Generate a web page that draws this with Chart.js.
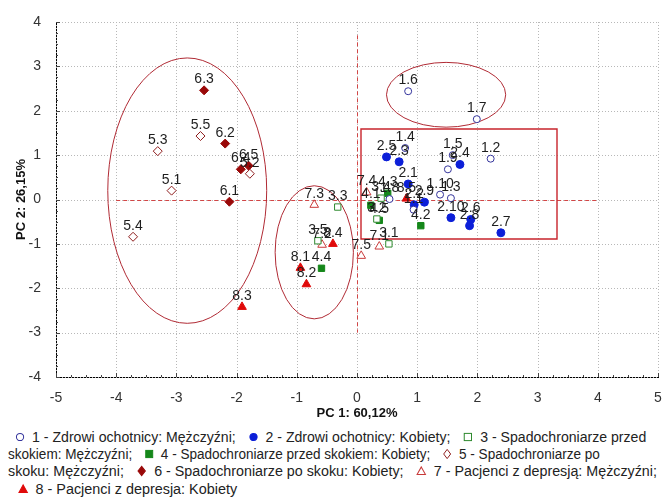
<!DOCTYPE html>
<html lang="pl">
<head>
<meta charset="utf-8">
<script src="https://cdn.jsdelivr.net/npm/chart.js@4.4.1/dist/chart.umd.min.js"></script>
<style>
  body { margin: 0; background: #fff; font-family: "Liberation Sans", Arial, sans-serif; }
  #wrap { position: relative; width: 664px; height: 499px; overflow: hidden; }
  #pca { position: absolute; left: 0; top: 0; }
  .lline { position: absolute; white-space: nowrap; font-size: 14px; color: #222; transform-origin: 0 50%; line-height: 16px; }
  .lline svg { vertical-align: -1px; margin-right: 6px; }
</style>
</head>
<body>
<div id="wrap">
  <canvas id="pca" width="664" height="424"></canvas>
  <div id="legend"></div>
</div>
<script>
// PCA scores (PC1, PC2) per group
const groupNames = [
  "1 - Zdrowi ochotnicy: Mężczyźni",
  "2 - Zdrowi ochotnicy: Kobiety",
  "3 - Spadochroniarze przed skokiem: Mężczyźni",
  "4 - Spadochroniarze przed skokiem: Kobiety",
  "5 - Spadochroniarze po skoku: Mężczyźni",
  "6 - Spadochroniarze po skoku: Kobiety",
  "7 - Pacjenci z depresją: Mężczyźni",
  "8 - Pacjenci z depresja: Kobiety"
];

const ids1 = ["1.1", "1.2", "1.3", "1.4", "1.5", "1.6", "1.7", "1.8", "1.9", "1.10"];
const pc1_1 = [0.94, 2.22, 1.56, 0.80, 1.59, 0.85, 1.99, 0.54, 1.51, 1.38];
const pc2_1 = [-0.23, 0.92, 0.03, 1.16, 1.00, 2.44, 1.81, 0.01, 0.68, 0.11];

const ids2 = ["2.1", "2.2", "2.3", "2.4", "2.5", "2.6", "2.7", "2.8", "2.9", "2.10"];
const pc1_2 = [0.85, 0.95, 0.70, 1.71, 0.49, 1.89, 2.39, 1.87, 1.12, 1.56];
const pc2_2 = [0.35, -0.12, 0.85, 0.79, 0.96, -0.45, -0.75, -0.59, -0.06, -0.41];

const ids3 = ["3.1", "3.2", "3.3", "3.4", "3.5"];
const pc1_3 = [0.53, 0.33, -0.32, 0.40, -0.65];
const pc2_3 = [-1.00, -0.44, -0.17, 0.03, -0.93];

const ids4 = ["4.1", "4.2", "4.3", "4.4", "4.5"];
const pc1_4 = [0.23, 1.06, 0.51, -0.59, 0.37];
const pc2_4 = [-0.13, -0.59, 0.14, -1.55, -0.47];

const ids5 = ["5.1", "5.2", "5.3", "5.4", "5.5"];
const pc1_5 = [-3.08, -1.78, -3.31, -3.72, -2.60];
const pc2_5 = [0.20, 0.58, 1.09, -0.84, 1.43];

const ids6 = ["6.1", "6.2", "6.3", "6.4", "6.5"];
const pc1_6 = [-2.12, -2.19, -2.54, -1.93, -1.80];
const pc2_6 = [-0.05, 1.26, 2.46, 0.68, 0.76];

const ids7 = ["7.1", "7.2", "7.3", "7.4", "7.5"];
const pc1_7 = [0.37, -0.58, -0.71, 0.16, 0.07];
const pc2_7 = [-1.06, -1.02, -0.12, 0.16, -1.27];

const ids8 = ["8.1", "8.2", "8.3", "8.4", "8.5"];
const pc1_8 = [-0.94, -0.84, -1.91, -0.40, 0.82];
const pc2_8 = [-1.54, -1.91, -2.42, -1.00, 0.02];

const xTicks = [-5, -4, -3, -2, -1, 0, 1, 2, 3, 4, 5];
const yTicks = [-4, -3, -2, -1, 0, 1, 2, 3, 4];

// cluster outlines in PC units: centre x, centre y, half-width, half-height
const ellCx = [-2.82, -0.71, 1.48];
const ellCy = [0.20, -1.19, 2.36];
const ellRx = [1.32, 0.65, 0.99];
const ellRy = [2.99, 1.50, 0.73];
// box around the healthy group: x1, y1, x2, y2
const boxPc = [0.06, 1.60, 3.33, -0.88];

const groups = [
  { ids: ids1, xs: pc1_1, ys: pc2_1, shape: "circle",   col: "#34349c", fill: false, r: 3.5 },
  { ids: ids2, xs: pc1_2, ys: pc2_2, shape: "circle",   col: "#0c1fd8", fill: true,  r: 4 },
  { ids: ids3, xs: pc1_3, ys: pc2_3, shape: "rect",     col: "#2f8a2f", fill: false, r: 4.5 },
  { ids: ids4, xs: pc1_4, ys: pc2_4, shape: "rect",     col: "#15871a", fill: true,  r: 4.5 },
  { ids: ids5, xs: pc1_5, ys: pc2_5, shape: "rectRot",  col: "#8e1c1c", fill: false, r: 4.5 },
  { ids: ids6, xs: pc1_6, ys: pc2_6, shape: "rectRot",  col: "#990808", fill: true,  r: 4.5 },
  { ids: ids7, xs: pc1_7, ys: pc2_7, shape: "triangle", col: "#c83a3a", fill: false, r: 5 },
  { ids: ids8, xs: pc1_8, ys: pc2_8, shape: "triangle", col: "#e00a0a", fill: true,  r: 5 }
];

const datasets = groups.map((g, i) => ({
  label: groupNames[i],
  data: g.xs.map((v, k) => ({ x: v, y: g.ys[k], id: g.ids[k] })),
  pointStyle: g.shape,
  pointRadius: g.r,
  pointBorderWidth: 1,
  pointBorderColor: g.col,
  pointBackgroundColor: g.fill ? g.col : "#fff",
  showLine: false
}));

const overlay = {
  id: "overlay",
  beforeDatasetsDraw(chart) {
    const { ctx, scales: { x, y }, chartArea: a } = chart;
    const ux = x.getPixelForValue(1) - x.getPixelForValue(0);
    const uy = y.getPixelForValue(0) - y.getPixelForValue(1);
    ctx.save();

    // dotted grid
    ctx.strokeStyle = "#b8b8b8";
    ctx.lineWidth = 1;
    ctx.setLineDash([1, 2]);
    ctx.beginPath();
    xTicks.forEach(v => {
      const p = Math.round(x.getPixelForValue(v)) + 0.5;
      ctx.moveTo(p, a.top); ctx.lineTo(p, a.bottom);
    });
    yTicks.forEach(v => {
      const p = Math.round(y.getPixelForValue(v)) + 0.5;
      ctx.moveTo(a.left, p); ctx.lineTo(a.right, p);
    });
    ctx.stroke();
    ctx.setLineDash([]);

    // inward ticks, minor every 0.25
    ctx.strokeStyle = "#444";
    ctx.beginPath();
    for (let v = -5; v <= 5.001; v += 0.25) {
      const p = Math.round(x.getPixelForValue(v)) + 0.5;
      const len = Number.isInteger(v) ? 4 : 2;
      ctx.moveTo(p, a.bottom); ctx.lineTo(p, a.bottom - len);
    }
    for (let v = -4; v <= 4.001; v += 0.25) {
      const p = Math.round(y.getPixelForValue(v)) + 0.5;
      const len = Number.isInteger(v) ? 4 : 2;
      ctx.moveTo(a.left, p); ctx.lineTo(a.left + len, p);
    }
    ctx.stroke();

    // dashed axes through the origin
    ctx.strokeStyle = "#d24646";
    ctx.setLineDash([4, 3]);
    ctx.beginPath();
    const y0 = Math.round(y.getPixelForValue(0)) + 0.5;
    ctx.moveTo(x.getPixelForValue(-4), y0); ctx.lineTo(x.getPixelForValue(4), y0);
    const x0 = Math.round(x.getPixelForValue(0)) + 0.5;
    ctx.moveTo(x0, y.getPixelForValue(3.7)); ctx.lineTo(x0, y.getPixelForValue(-3));
    ctx.stroke();
    ctx.setLineDash([]);

    // cluster ellipses and box
    ctx.strokeStyle = "#b02a34";
    ctx.lineWidth = 1;
    ellCx.forEach((cx, i) => {
      ctx.beginPath();
      ctx.ellipse(x.getPixelForValue(cx), y.getPixelForValue(ellCy[i]), ellRx[i] * ux, ellRy[i] * uy, 0, 0, Math.PI * 2);
      ctx.stroke();
    });
    const bx1 = Math.round(x.getPixelForValue(boxPc[0]));
    const by1 = Math.round(y.getPixelForValue(boxPc[1]));
    const bx2 = Math.round(x.getPixelForValue(boxPc[2]));
    const by2 = Math.round(y.getPixelForValue(boxPc[3]));
    ctx.beginPath();
    ctx.rect(bx1, by1, bx2 - bx1, by2 - by1);
    ctx.lineWidth = 1.4;
    ctx.strokeStyle = "#c8242c";
    ctx.stroke();
    ctx.restore();
  },
  afterDatasetsDraw(chart) {
    const { ctx } = chart;
    ctx.save();
    ctx.font = '14px "Liberation Sans", Arial, sans-serif';
    ctx.fillStyle = "#1e1e1e";
    ctx.textAlign = "center";
    ctx.textBaseline = "alphabetic";
    chart.data.datasets.forEach((ds, i) => {
      const meta = chart.getDatasetMeta(i);
      meta.data.forEach((pt, k) => {
        ctx.fillText(ds.data[k].id, pt.x, pt.y - 7);
      });
    });
    ctx.restore();
  }
};

new Chart(document.getElementById("pca"), {
  type: "scatter",
  data: { datasets },
  options: {
    responsive: false,
    animation: false,
    layout: { padding: { top: 22, right: 3, left: 0, bottom: 0 } },
    plugins: { legend: { display: false }, tooltip: { enabled: false } },
    scales: {
      x: {
        type: "linear", min: -5, max: 5,
        afterBuildTicks: s => { s.ticks = xTicks.map(v => ({ value: v })); },
        ticks: { color: "#333", font: { size: 14, family: '"Liberation Sans", Arial' }, padding: 5, maxRotation: 0 },
        grid: { display: false },
        border: { display: true, color: "#000", width: 1 },
        title: { display: true, text: "PC 1: 60,12%", color: "#111", font: { size: 13, weight: "bold", family: '"Liberation Sans", Arial' }, padding: { top: 2, bottom: 3 } },
        afterFit: s => { s.height = 47; s.paddingLeft = 0; s.paddingRight = 0; }
      },
      y: {
        type: "linear", min: -4, max: 4,
        afterBuildTicks: s => { s.ticks = yTicks.map(v => ({ value: v })); },
        ticks: { color: "#333", font: { size: 14, family: '"Liberation Sans", Arial' }, padding: 7 },
        grid: { display: false },
        border: { display: true, color: "#000", width: 1 },
        title: { display: true, text: "PC 2: 26,15%", color: "#111", font: { size: 13, weight: "bold", family: '"Liberation Sans", Arial' }, padding: { top: 14, bottom: 0 } },
        afterFit: s => { s.width = 56; s.paddingTop = 0; s.paddingBottom = 0; }
      }
    }
  },
  plugins: [overlay]
});

// legend under the plot, wrapped the same way as the printed figure
function markerSvg(g) {
  const s = 12, c = s / 2, r = 3.6;
  const fill = g.fill ? g.col : "#fff";
  let shape;
  if (g.shape === "circle") shape = `<circle cx="${c}" cy="${c}" r="${r}"/>`;
  else if (g.shape === "rect") shape = `<rect x="${c - r}" y="${c - r}" width="${2 * r}" height="${2 * r}"/>`;
  else if (g.shape === "rectRot") shape = `<polygon points="${c},${c - r - 1} ${c + r},${c} ${c},${c + r + 1} ${c - r},${c}"/>`;
  else shape = `<polygon points="${c},${c - r - 0.5} ${c + r + 0.5},${c + r} ${c - r - 0.5},${c + r}"/>`;
  return `<svg width="${s}" height="${s}"><g fill="${fill}" stroke="${g.col}" stroke-width="1">${shape}</g></svg>`;
}

const wrapAfter = { 2: "przed", 4: "po" };   // word where the entry is split
const lineEndsAfter = [6];                   // entry that closes a line
const lines = [[]];
groupNames.forEach((name, i) => {
  const text = name + (i < groupNames.length - 1 ? ";" : "");
  const cur = lines[lines.length - 1];
  if (wrapAfter[i]) {
    const k = text.indexOf(" " + wrapAfter[i] + " ") + wrapAfter[i].length + 1;
    cur.push(markerSvg(groups[i]) + text.slice(0, k));
    lines.push([text.slice(k + 1)]);
  } else {
    cur.push(markerSvg(groups[i]) + text);
    if (lineEndsAfter.includes(i)) lines.push([]);
  }
});

const lineBox = [[14, 646, 437], [8, 600, 454], [8, 657, 471], [17, 237, 489]];
const legend = document.getElementById("legend");
lines.forEach((parts, n) => {
  const el = document.createElement("div");
  el.className = "lline";
  el.innerHTML = parts.join("&nbsp;&nbsp;&nbsp;");
  legend.appendChild(el);
  const [l, r, cy] = lineBox[n];
  el.style.left = l + "px";
  el.style.top = (cy - 8) + "px";
  el.style.transform = `scaleX(${(r - l) / el.offsetWidth})`;
});
</script>
</body>
</html>
